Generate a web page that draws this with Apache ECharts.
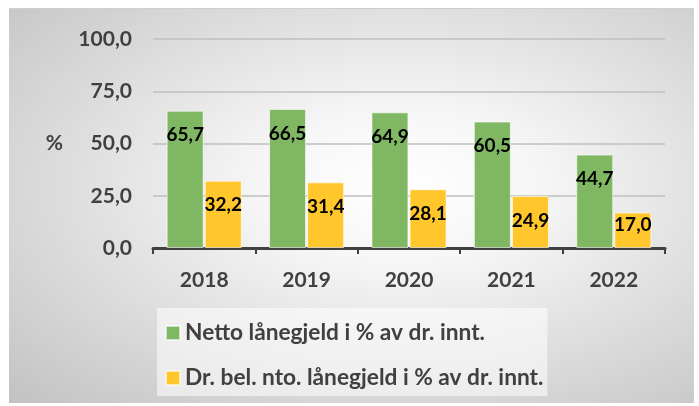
<!DOCTYPE html>
<html>
<head>
<meta charset="utf-8">
<script src="https://cdn.jsdelivr.net/npm/echarts@6/dist/echarts.min.js"></script>
<style>
  body { margin: 0; background: #fff; }
  #bg {
    position: absolute; left: 9px; top: 9px; width: 685px; height: 394px;
    background: radial-gradient(farthest-corner at 57% 45%, #ffffff 0%, #f6f6f6 25%, #dcdcdc 62%, #c2c2c2 100%);
    box-shadow: 0 -1px 0 #cfcfcf;
  }
  #main { position: absolute; left: 0; top: 0; width: 699px; height: 406px; }
</style>
</head>
<body>
<div id="bg"></div>
<div id="main"></div>
<script>
var years = ['2018', '2019', '2020', '2021', '2022'];
var netto = [65.7, 66.5, 64.9, 60.5, 44.7];
var drBel = [32.2, 31.4, 28.1, 24.9, 17.0];
var seriesNames = ['Netto lånegjeld i % av dr. innt.', 'Dr. bel. nto. lånegjeld i % av dr. innt.'];

var font = 'Lato';

function komma(v) {
  return v.toFixed(1).replace('.', ',');
}

// korte stolper får etiketten nærmere toppen
function barData(arr) {
  return arr.map(function (v) {
    var item = { value: v };
    if (v < 20) {
      item.label = { distance: 3 };
    }
    return item;
  });
}

var myChart = echarts.init(document.getElementById('main'));

var labelStyle = {
  show: true,
  position: 'insideTop',
  distance: 15,
  color: '#000',
  fontFamily: font,
  fontWeight: 'bold',
  fontSize: 19,
  formatter: function (p) { return komma(p.value); }
};

var option = {
  animation: false,
  grid: { left: 153, right: 34, top: 39, bottom: 158 },
  legend: {
    orient: 'vertical',
    left: 157,
    top: 308,
    padding: [13, 4, 6, 8],
    itemGap: 21,
    itemWidth: 14,
    itemHeight: 14,
    backgroundColor: 'rgba(255,255,255,0.55)',
    textStyle: { color: '#404040', fontFamily: font, fontWeight: 'bold', fontSize: 22.7, lineHeight: 24 },
    data: [
      { name: seriesNames[0], icon: 'rect' },
      { name: seriesNames[1], icon: 'rect' }
    ]
  },
  xAxis: {
    type: 'category',
    data: years,
    axisLine: { lineStyle: { color: '#404040', width: 3 } },
    axisTick: { show: true, length: 6, lineStyle: { color: '#404040', width: 2 } },
    axisLabel: { color: '#404040', fontFamily: font, fontWeight: 'bold', fontSize: 21, margin: 22 }
  },
  yAxis: {
    type: 'value',
    min: 0,
    max: 100,
    interval: 25,
    name: '%',
    nameLocation: 'middle',
    nameRotate: 0,
    nameGap: 90,
    nameTextStyle: { color: '#404040', fontFamily: font, fontWeight: 'bold', fontSize: 21 },
    axisLine: { show: false },
    axisTick: { show: false },
    axisLabel: {
      color: '#404040', fontFamily: font, fontWeight: 'bold', fontSize: 21, margin: 21,
      formatter: function (v) { return komma(v); }
    },
    splitLine: { lineStyle: { color: '#bfbfbf', width: 1.5 } }
  },
  series: [
    {
      name: seriesNames[0],
      type: 'bar',
      barWidth: 37,
      barGap: '3%',
      data: barData(netto),
      itemStyle: { color: '#80b763', borderColor: 'rgba(255,255,255,0.6)', borderWidth: 1 },
      label: labelStyle
    },
    {
      name: seriesNames[1],
      type: 'bar',
      barWidth: 37,
      data: barData(drBel),
      itemStyle: { color: '#ffc72c', borderColor: 'rgba(255,255,255,0.6)', borderWidth: 1 },
      label: labelStyle
    }
  ]
};

myChart.setOption(option);
</script>
</body>
</html>
